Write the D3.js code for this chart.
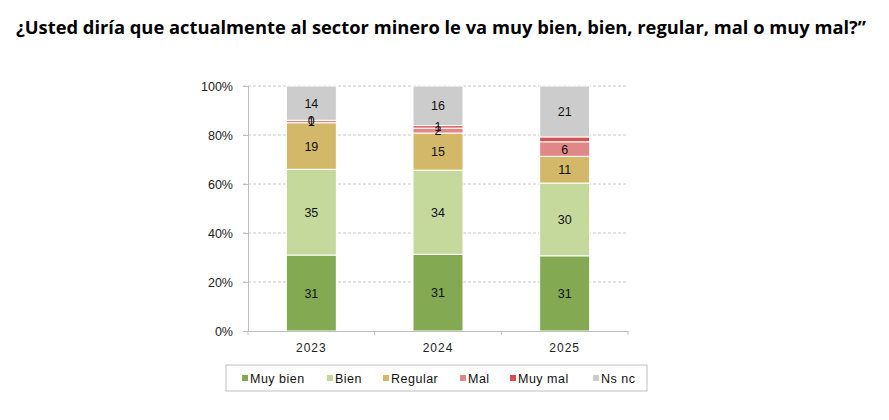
<!DOCTYPE html>
<html>
<head>
<meta charset="utf-8">
<script src="https://cdn.jsdelivr.net/npm/d3@7"></script>
<style>
  body { margin: 0; background: #fff; }
  svg text { font-family: "Liberation Sans", Arial, sans-serif; }
</style>
</head>
<body>
<div id="chart"></div>
<script>
const years      = ["2023", "2024", "2025"];
const categories = ["Muy bien", "Bien", "Regular", "Mal", "Muy mal", "Ns nc"];
const muyBien    = [31, 31, 31];
const bien       = [35, 34, 30];
const regular    = [19, 15, 11];
const mal        = [1, 2, 6];
const muyMal     = [0, 1, 2];
const nsnc       = [14, 16, 21];
// 2025 "Muy mal" has no label in the original
const showLabel  = {"Muy mal": [true, true, false]};
const yTicks     = [0, 0.2, 0.4, 0.6, 0.8, 1];

const COLORS = {
  "Muy bien": "#83aa53",
  "Bien":     "#c5d99d",
  "Regular":  "#d2b868",
  "Mal":      "#e08888",
  "Muy mal":  "#d05252",
  "Ns nc":    "#cccccc"
};

const series = [muyBien, bien, regular, mal, muyMal, nsnc];
const rows = years.map((yr, i) => {
  const r = { year: yr };
  categories.forEach((c, k) => r[c] = series[k][i]);
  return r;
});

const W = 889, H = 420;
const margin = { left: 248, right: 261, top: 86, bottom: 89 };
const width  = W - margin.left - margin.right;
const height = H - margin.top - margin.bottom;

const svg = d3.select("#chart").append("svg")
  .attr("width", W).attr("height", H);

svg.append("text")
  .attr("x", 16).attr("y", 34)
  .attr("textLength", 850).attr("lengthAdjust", "spacingAndGlyphs")
  .attr("font-size", "17.5px").attr("font-weight", "700")
  .style("font-family", "'Open Sans', sans-serif")
  .attr("fill", "#000")
  .text("¿Usted diría que actualmente al sector minero le va muy bien, bien, regular, mal o muy mal?”");

const g = svg.append("g").attr("transform", `translate(${margin.left},${margin.top})`);

const x = d3.scaleBand().domain(years).range([0, width]).paddingInner(0).paddingOuter(0);
const barW = 50;
const y = d3.scaleLinear().domain([0, 1]).range([height, 0]);

// gridlines
g.append("g")
  .selectAll("line")
  .data(yTicks.filter(t => t > 0))
  .join("line")
    .attr("x1", -5).attr("x2", width)
    .attr("y1", d => y(d)).attr("y2", d => y(d))
    .attr("stroke", "#c8c8c8").attr("stroke-width", 1)
    .attr("stroke-dasharray", "3 2");

// y axis
const yAxis = g.append("g")
  .call(d3.axisLeft(y).tickValues(yTicks).tickFormat(d3.format(".0%")).tickSize(5).tickPadding(10));
yAxis.select(".domain").attr("stroke", "#bfbfbf");
yAxis.selectAll(".tick line").attr("stroke", "#bfbfbf");
yAxis.selectAll(".tick text").attr("font-size", "12.5px").attr("fill", "#222");

// stacked bars (100% stacked)
const stack = d3.stack().keys(categories).offset(d3.stackOffsetExpand);
const layers = stack(rows);

const layerG = g.selectAll(".layer")
  .data(layers)
  .join("g")
    .attr("fill", d => COLORS[d.key]);

layerG.selectAll("rect")
  .data(d => d)
  .join("rect")
    .attr("x", d => x(d.data.year) + (x.bandwidth() - barW) / 2)
    .attr("width", barW)
    .attr("y", d => y(d[1]))
    .attr("height", d => Math.max(0, y(d[0]) - y(d[1])))
    .attr("stroke", "#fff").attr("stroke-width", 1);

// labels
layers.forEach(layer => {
  layer.forEach((d, i) => {
    const flags = showLabel[layer.key];
    if (flags && !flags[i]) return;
    g.append("text")
      .attr("x", x(d.data.year) + x.bandwidth() / 2)
      .attr("y", (y(d[0]) + y(d[1])) / 2 + 4.5)
      .attr("text-anchor", "middle")
      .attr("font-size", "12.5px").attr("fill", "#111")
      .text(d.data[layer.key]);
  });
});

// x axis
const xAxis = g.append("g")
  .attr("transform", `translate(0,${height})`)
  .call(d3.axisBottom(x).tickSize(0).tickPadding(12));
xAxis.select(".domain").attr("stroke", "#bfbfbf");
xAxis.selectAll(".tick text").attr("font-size", "12px").attr("fill", "#222").attr("letter-spacing", "1px");
g.append("g").attr("transform", `translate(0,${height})`)
  .selectAll("line")
  .data(d3.range(years.length + 1))
  .join("line")
    .attr("x1", d => d * x.bandwidth()).attr("x2", d => d * x.bandwidth())
    .attr("y1", 0).attr("y2", 4)
    .attr("stroke", "#bfbfbf");

// legend
const legend = svg.append("g").attr("transform", "translate(226,365)");
legend.append("rect")
  .attr("width", 421).attr("height", 26)
  .attr("fill", "#fff").attr("stroke", "#bfbfbf");

const legendX = [16, 101, 157, 234, 284, 367];
categories.forEach((c, k) => {
  const it = legend.append("g").attr("transform", `translate(${legendX[k]},13)`);
  it.append("rect").attr("x", 0).attr("y", -3).attr("width", 6).attr("height", 6)
    .attr("fill", COLORS[c]);
  it.append("text").attr("x", 8).attr("y", 4.5)
    .attr("font-size", "12.5px").attr("fill", "#111").attr("letter-spacing", "0.5px")
    .text(c);
});
</script>
</body>
</html>
